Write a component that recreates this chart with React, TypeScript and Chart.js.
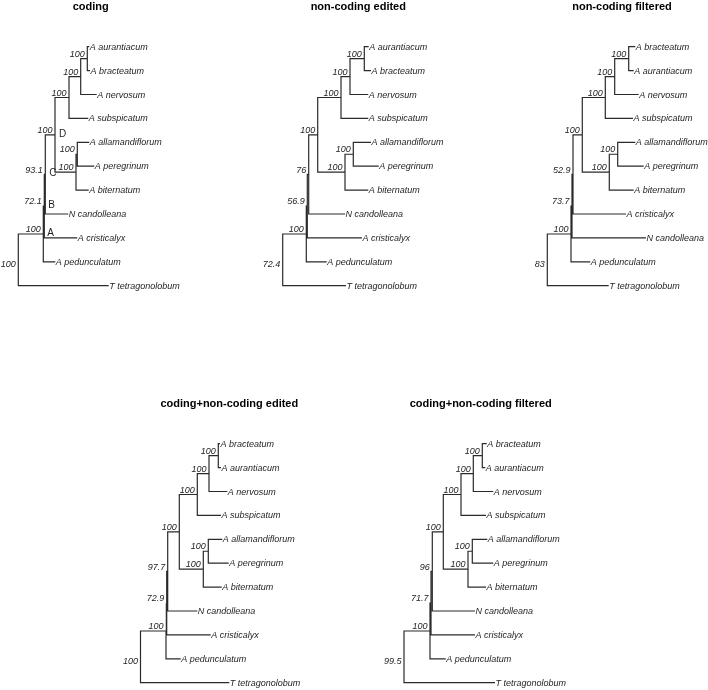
import { useEffect, useRef } from "react";
import { Chart, registerables } from "chart.js";

Chart.register(...registerables);

// ---------- DATA ----------
// Shared topology: internal nodes, children are leaf rows (numbers) or node keys
const NODE_KEYS = ["pair1", "nerv", "subsp", "pair2", "allam", "core", "C", "B", "A", "root"];
const NODE_CHILDREN: (number | string)[][] = [
  [0, 1],
  ["pair1", 2],
  ["nerv", 3],
  [4, 5],
  ["pair2", 6],
  ["subsp", "allam"],
  ["core", 7],
  ["C", 8],
  ["B", 9],
  ["A", 10],
];

const TITLES = [
  "coding",
  "non-coding edited",
  "non-coding filtered",
  "coding+non-coding edited",
  "coding+non-coding filtered",
];

const TAXA_1 = ["A aurantiacum", "A bracteatum", "A nervosum", "A subspicatum", "A allamandiflorum", "A peregrinum", "A biternatum", "N candolleana", "A cristicalyx", "A pedunculatum", "T tetragonolobum"];
const TAXA_2 = ["A aurantiacum", "A bracteatum", "A nervosum", "A subspicatum", "A allamandiflorum", "A peregrinum", "A biternatum", "N candolleana", "A cristicalyx", "A pedunculatum", "T tetragonolobum"];
const TAXA_3 = ["A bracteatum", "A aurantiacum", "A nervosum", "A subspicatum", "A allamandiflorum", "A peregrinum", "A biternatum", "A cristicalyx", "N candolleana", "A pedunculatum", "T tetragonolobum"];
const TAXA_4 = ["A bracteatum", "A aurantiacum", "A nervosum", "A subspicatum", "A allamandiflorum", "A peregrinum", "A biternatum", "N candolleana", "A cristicalyx", "A pedunculatum", "T tetragonolobum"];
const TAXA_5 = ["A bracteatum", "A aurantiacum", "A nervosum", "A subspicatum", "A allamandiflorum", "A peregrinum", "A biternatum", "N candolleana", "A cristicalyx", "A pedunculatum", "T tetragonolobum"];

// Tip depth from root (relative branch-length units), one per leaf row
const TIPS_1 = [71.0, 71.7, 78.4, 70.0, 71.0, 76.0, 70.4, 50.0, 59.0, 37.0, 90.4];
const TIPS_2 = [86.0, 88.3, 85.6, 85.6, 88.3, 96.0, 85.6, 62.3, 79.3, 44.0, 63.3];
const TIPS_3 = [88.0, 86.4, 91.4, 85.7, 88.0, 96.4, 86.4, 78.7, 98.7, 43.0, 61.4];
const TIPS_4 = [79.5, 80.5, 86.8, 80.5, 81.8, 88.2, 81.2, 56.8, 70.2, 40.2, 88.8];
const TIPS_5 = [82.7, 81.3, 89.3, 82.0, 83.3, 89.3, 82.0, 71.0, 71.0, 41.7, 91.0];

// Internal node depth from root, in NODE_KEYS order
const NODES_1 = [69.0, 62.4, 50.7, 59.0, 57.7, 36.7, 27.0, 26.0, 25.0, 0];
const NODES_2 = [81.6, 67.3, 58.3, 70.6, 62.3, 35.0, 26.0, 24.6, 23.6, 0];
const NODES_3 = [81.4, 67.4, 58.0, 70.4, 62.0, 35.0, 25.7, 24.7, 23.7, 0];
const NODES_4 = [77.8, 68.5, 56.8, 67.8, 62.8, 38.8, 27.2, 26.2, 25.5, 0];
const NODES_5 = [78.3, 69.3, 57.0, 68.3, 64.0, 39.3, 28.3, 27.0, 26.0, 0];

// Bootstrap support, in NODE_KEYS order
const SUPPORT_1 = ["100", "100", "100", "100", "100", "100", "93.1", "72.1", "100", "100"];
const SUPPORT_2 = ["100", "100", "100", "100", "100", "100", "76", "56.9", "100", "72.4"];
const SUPPORT_3 = ["100", "100", "100", "100", "100", "100", "52.9", "73.7", "100", "83"];
const SUPPORT_4 = ["100", "100", "100", "100", "100", "100", "97.7", "72.9", "100", "100"];
const SUPPORT_5 = ["100", "100", "100", "100", "100", "100", "96", "71.7", "100", "99.5"];

// Node letters (coding tree only)
const LETTERS_1 = ["", "", "", "", "", "D", "C", "B", "A", ""];
const NO_LETTERS = ["", "", "", "", "", "", "", "", "", ""];

// ---------- LAYOUT ----------
const FONT = '"Liberation Sans", Arial, Helvetica, sans-serif';
const LINE = "#2a2a2a";
const TEXT = "#1e1e1e";
const ROW_PX = 23.9;
const FIRST_ROW = 46.7;
const UNIT_PX = 1;
const PW = 236;
const PH = 300;

const PANELS = [
  { left: 0, top: 0, rootOff: 18.3, titleX: 90.7 },
  { left: 236, top: 0, rootOff: 46.7, titleX: 122.3 },
  { left: 472, top: 0, rootOff: 75.3, titleX: 150 },
  { left: 118, top: 397.3, rootOff: 22.5, titleX: 111.3 },
  { left: 354, top: 397.3, rootOff: 50, titleX: 126.7 },
];

const TREES = [
  { taxa: TAXA_1, tips: TIPS_1, nodes: NODES_1, support: SUPPORT_1, letters: LETTERS_1 },
  { taxa: TAXA_2, tips: TIPS_2, nodes: NODES_2, support: SUPPORT_2, letters: NO_LETTERS },
  { taxa: TAXA_3, tips: TIPS_3, nodes: NODES_3, support: SUPPORT_3, letters: NO_LETTERS },
  { taxa: TAXA_4, tips: TIPS_4, nodes: NODES_4, support: SUPPORT_4, letters: NO_LETTERS },
  { taxa: TAXA_5, tips: TIPS_5, nodes: NODES_5, support: SUPPORT_5, letters: NO_LETTERS },
];

type Tree = (typeof TREES)[number];

function nodeIndex(key: string) {
  return NODE_KEYS.indexOf(key);
}

function rowOf(child: number | string, memo: Record<string, number>): number {
  if (typeof child === "number") return child;
  if (memo[child] !== undefined) return memo[child];
  const kids = NODE_CHILDREN[nodeIndex(child)];
  const r = kids.reduce((s: number, k) => s + rowOf(k, memo), 0) / kids.length;
  memo[child] = r;
  return r;
}

function depthOf(tree: Tree, child: number | string) {
  return typeof child === "number" ? tree.tips[child] : tree.nodes[nodeIndex(child)];
}

function buildEdges(tree: Tree) {
  const memo: Record<string, number> = {};
  const pts: { x: number; y: number | null }[] = [];
  NODE_KEYS.forEach((key, i) => {
    const nx = tree.nodes[i];
    const ny = rowOf(key, memo);
    NODE_CHILDREN[i].forEach((c) => {
      const cy = rowOf(c, memo);
      const cx = depthOf(tree, c);
      pts.push({ x: nx, y: ny }, { x: nx, y: cy }, { x: cx, y: cy }, { x: cx, y: null });
    });
  });
  return { pts, memo };
}

function TreePanel({ idx }: { idx: number }) {
  const ref = useRef<HTMLCanvasElement>(null);
  useEffect(() => {
    const tree = TREES[idx];
    const panel = PANELS[idx];
    const { pts, memo } = buildEdges(tree);
    const xMin = -panel.rootOff / UNIT_PX;
    const yMin = -FIRST_ROW / ROW_PX;

    const labelPlugin = {
      id: "treeLabels",
      afterDatasetsDraw(chart: any) {
        const { ctx } = chart;
        const xs = chart.scales.x;
        const ys = chart.scales.y;
        ctx.save();
        // title
        ctx.fillStyle = "#000";
        ctx.font = `bold 11px ${FONT}`;
        ctx.textAlign = "center";
        ctx.textBaseline = "middle";
        ctx.fillText(TITLES[idx], panel.titleX, 6.8);
        // tip labels
        ctx.fillStyle = TEXT;
        ctx.font = `italic 9px ${FONT}`;
        ctx.textAlign = "left";
        tree.taxa.forEach((name, i) => {
          ctx.fillText(name, xs.getPixelForValue(tree.tips[i]) + 0.5, ys.getPixelForValue(i) + 0.5);
        });
        // support labels
        NODE_KEYS.forEach((key, i) => {
          const px = xs.getPixelForValue(tree.nodes[i]);
          const py = ys.getPixelForValue(rowOf(key, memo));
          ctx.font = `italic 9px ${FONT}`;
          ctx.textAlign = "right";
          if (key === "root") {
            ctx.fillText(tree.support[i], px - 2.5, py + 5);
          } else {
            ctx.fillText(tree.support[i], px - 2.5, py - 4.3);
          }
          if (tree.letters[i]) {
            ctx.font = `10px ${FONT}`;
            ctx.textAlign = "left";
            ctx.fillText(tree.letters[i], px + 4, py - 1);
          }
        });
        ctx.restore();
      },
    };

    const chart = new Chart(ref.current as HTMLCanvasElement, {
      type: "scatter",
      data: {
        datasets: [
          {
            data: pts as any,
            showLine: true,
            borderColor: LINE,
            borderWidth: 1.2,
            pointRadius: 0,
            spanGaps: false,
            clip: false as any,
            borderCapStyle: "butt",
            borderJoinStyle: "miter",
          } as any,
        ],
      },
      options: {
        animation: false,
        responsive: false,
        maintainAspectRatio: false,
        devicePixelRatio: 1,
        events: [],
        layout: { padding: 0 },
        plugins: {
          legend: { display: false },
          tooltip: { enabled: false },
          title: { display: false },
        },
        scales: {
          x: { type: "linear", display: false, min: xMin, max: xMin + PW / UNIT_PX },
          y: { type: "linear", display: false, reverse: true, min: yMin, max: yMin + PH / ROW_PX },
        },
      },
      plugins: [labelPlugin],
    });
    return () => chart.destroy();
  }, [idx]);

  const p = PANELS[idx];
  return (
    <canvas
      ref={ref}
      width={PW}
      height={PH}
      style={{ position: "absolute", left: p.left, top: p.top, width: PW, height: PH }}
    />
  );
}

export default function App() {
  return (
    <div style={{ position: "absolute", left: 0, top: 0, width: 708, height: 690, background: "#fff" }}>
      {TREES.map((_, i) => (
        <TreePanel key={i} idx={i} />
      ))}
    </div>
  );
}
